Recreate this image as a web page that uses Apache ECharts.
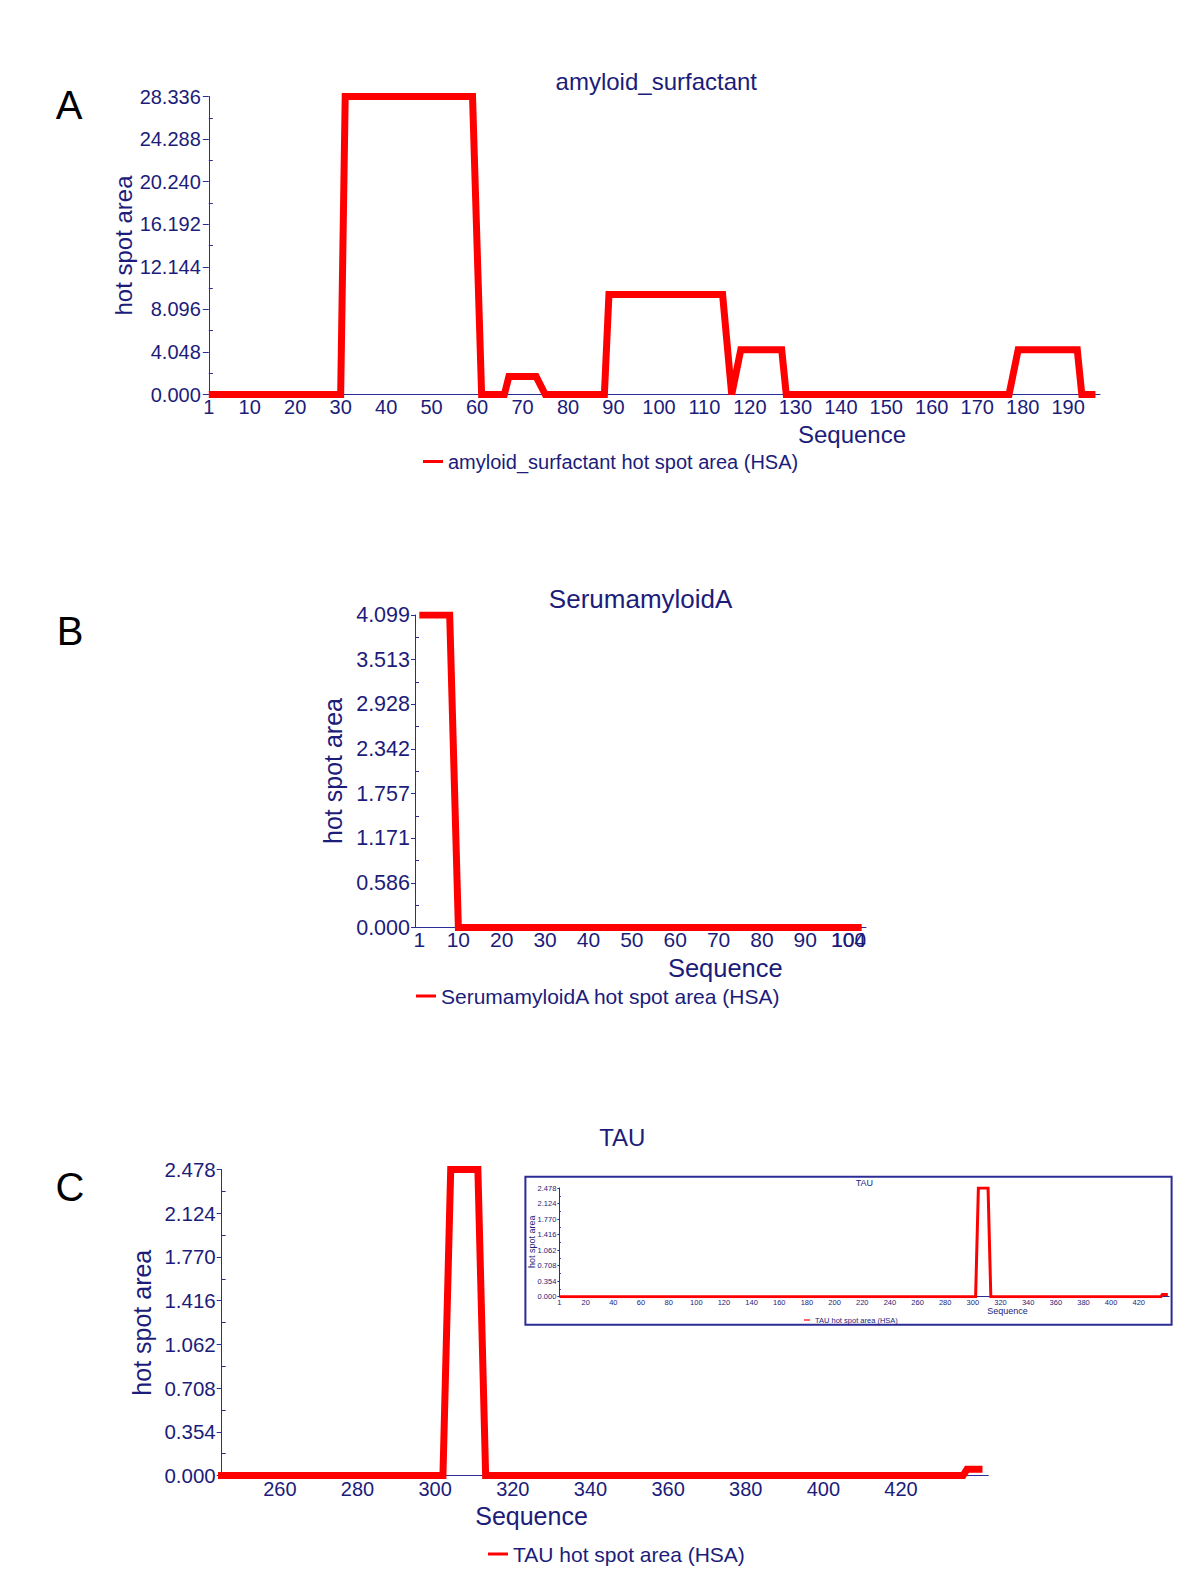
<!DOCTYPE html>
<html>
<head>
<meta charset="utf-8">
<script src="https://cdn.jsdelivr.net/npm/echarts@6/dist/echarts.min.js"></script>
<style>
html,body{margin:0;padding:0;background:#fff;}
#c{width:1200px;height:1591px;}
</style>
</head>
<body>
<div id="c"></div>
<script>
// ---------- DATA ----------
// Panel A: amyloid_surfactant (breakpoints of the HSA profile)
const aX = [1, 30, 31, 59, 61, 66, 67, 73, 75, 88, 89, 114, 116, 118, 127, 128, 177, 179, 192, 193, 196];
const aY = [0, 0, 28.336, 28.336, 0, 0, 1.7, 1.7, 0, 0, 9.5, 9.5, 0, 4.25, 4.25, 0, 0, 4.25, 4.25, 0, 0];
const aXTicks = [1, 10, 20, 30, 40, 50, 60, 70, 80, 90, 100, 110, 120, 130, 140, 150, 160, 170, 180, 190];
const aYTicks = [0, 4.048, 8.096, 12.144, 16.192, 20.240, 24.288, 28.336];

// Panel B: SerumamyloidA
const bX = [1, 8, 10, 103];
const bY = [4.099, 4.099, 0, 0];
const bXTicks = [1, 10, 20, 30, 40, 50, 60, 70, 80, 90, 100];
const bXEndTick = [104];
const bYTicks = [0, 0.586, 1.171, 1.757, 2.342, 2.928, 3.513, 4.099];

// Panel C: TAU (full sequence; main plot shows 245-441, inset shows all)
const cX = [1, 302, 304, 311, 313, 436, 437, 441];
const cY = [0, 0, 2.478, 2.478, 0, 0, 0.05, 0.05];
const cXTicks = [260, 280, 300, 320, 340, 360, 380, 400, 420];
const cYTicks = [0, 0.354, 0.708, 1.062, 1.416, 1.770, 2.124, 2.478];
const insetXTicks = [1, 20, 40, 60, 80, 100, 120, 140, 160, 180, 200, 220, 240, 260, 280, 300, 320, 340, 360, 380, 400, 420];

const nameA = 'amyloid_surfactant hot spot area (HSA)';
const nameB = 'SerumamyloidA hot spot area (HSA)';
const nameC = 'TAU hot spot area (HSA)';

// ---------- STYLE ----------
const FONT = "'Liberation Sans', Arial, Helvetica, sans-serif";
const NAVY = '#1c1c7a';
const AXIS = '#2c2c96';
const RED = '#ff0000';

function zip(xs, ys) { return xs.map((x, i) => [x, ys[i]]); }

function xAxis(gi, min, max, ticks, fs, margin, showLine, align) {
  const lbl = { customValues: ticks, fontSize: fs, color: NAVY, fontFamily: FONT, margin: margin, showMinLabel: true, showMaxLabel: true, hideOverlap: false };
  if (align) lbl.align = align;
  return {
    type: 'value', gridIndex: gi, min: min, max: max, position: 'bottom', offset: 0,
    axisLine: { show: showLine !== false, onZero: false, lineStyle: { color: AXIS, width: 1 } },
    axisTick: { show: false },
    splitLine: { show: false },
    axisLabel: lbl
  };
}
function yAxis(gi, max, ticks, fs, margin, tickLen, minorLen) {
  return {
    type: 'value', gridIndex: gi, min: 0, max: max, interval: max / 7, position: 'left',
    axisLine: { show: true, onZero: false, lineStyle: { color: AXIS, width: 1 } },
    axisTick: { show: true, length: tickLen, customValues: ticks, lineStyle: { color: AXIS } },
    minorTick: { show: true, splitNumber: 2, length: minorLen, lineStyle: { color: AXIS } },
    splitLine: { show: false },
    minorSplitLine: { show: false },
    axisLabel: { customValues: ticks, formatter: v => Number(v).toFixed(3), fontSize: fs, color: NAVY, fontFamily: FONT, margin: margin, hideOverlap: false }
  };
}
function lineSeries(name, gi, xs, ys, w) {
  return {
    type: 'line', name: name, xAxisIndex: gi, yAxisIndex: gi,
    data: zip(xs, ys), symbol: 'none', showSymbol: false, animation: false,
    lineStyle: { width: w, color: RED, join: 'miter', cap: 'butt' },
    itemStyle: { color: RED }
  };
}
function legend(name, left, top, fs, iw, ih) {
  return {
    data: [name], left: left, top: top, orient: 'horizontal', padding: 0, itemGap: 0,
    icon: 'rect', itemWidth: iw, itemHeight: ih, selectedMode: false,
    textStyle: { fontSize: fs, color: NAVY, fontFamily: FONT }
  };
}
function txt(s, x, y, fs, color, rot) {
  return {
    type: 'text', x: x, y: y, rotation: rot || 0, silent: true,
    style: { text: s, fontSize: fs, fontFamily: FONT, fill: color, align: 'center', verticalAlign: 'middle', textAlign: 'center', textVerticalAlign: 'middle' }
  };
}

const chart = echarts.init(document.getElementById('c'), null, { renderer: 'svg', width: 1200, height: 1591 });

const option = {
  animation: false,
  backgroundColor: '#ffffff',
  grid: [
    { left: 208.8, top: 96.5, width: 891.2, height: 298, outerBoundsMode: 'none', containLabel: false },
    { left: 415, top: 615, width: 451, height: 312.5, outerBoundsMode: 'none', containLabel: false },
    { left: 221.7, top: 1169.5, width: 766.6, height: 306, outerBoundsMode: 'none', containLabel: false },
    { left: 559.4, top: 1188, width: 609.8, height: 108.7, outerBoundsMode: 'none', containLabel: false }
  ],
  xAxis: [
    xAxis(0, 1, 197, aXTicks, 20, 2),
    xAxis(1, 0, 104, bXTicks, 21, 1.5),
    xAxis(2, 245, 442.5, cXTicks, 20, 3),
    xAxis(3, 1, 442, insetXTicks, 7.5, 1.5),
    xAxis(1, 0, 104, bXEndTick, 21, 1.5, false, 'right')
  ],
  yAxis: [
    yAxis(0, 28.336, aYTicks, 20, 8, 6, -4),
    yAxis(1, 4.099, bYTicks, 21.5, 5, 4, -4),
    yAxis(2, 2.478, cYTicks, 20.5, 6, 5, -4),
    yAxis(3, 2.478, cYTicks, 7.5, 3, 2, -1.5)
  ],
  legend: [
    legend(nameA, 423, 451.5, 20, 20, 3),
    legend(nameB, 416, 985.5, 21, 20, 3),
    legend(nameC, 488, 1543.5, 21, 20, 3),
    legend(nameC, 804, 1316, 7.5, 6, 1.2)
  ],
  series: [
    lineSeries(nameA, 0, aX, aY, 7),
    lineSeries(nameB, 1, bX, bY, 7),
    lineSeries(nameC, 2, cX, cY, 7),
    lineSeries(nameC, 3, cX, cY, 3)
  ],
  graphic: [
    txt('A', 69, 104.5, 40, '#000000'),
    txt('B', 70, 631, 40, '#000000'),
    txt('C', 70, 1187, 40, '#000000'),
    txt('amyloid_surfactant', 656.3, 81, 24, NAVY),
    txt('SerumamyloidA', 640.6, 598.5, 26, NAVY),
    txt('TAU', 622.3, 1137, 24, NAVY),
    txt('hot spot area', 123, 245.5, 24, NAVY, Math.PI / 2),
    txt('hot spot area', 332.7, 771, 25, NAVY, Math.PI / 2),
    txt('hot spot area', 142, 1322.7, 25, NAVY, Math.PI / 2),
    txt('Sequence', 852, 434, 24, NAVY),
    txt('Sequence', 725.3, 967.7, 25.5, NAVY),
    txt('Sequence', 531.5, 1515.5, 25, NAVY),
    {
      type: 'rect', silent: true,
      shape: { x: 525.4, y: 1176.7, width: 646.2, height: 148 },
      style: { fill: 'none', stroke: AXIS, lineWidth: 2 }
    },
    txt('TAU', 864.4, 1182.5, 9, NAVY),
    txt('hot spot area', 531.8, 1241.7, 9, NAVY, Math.PI / 2),
    txt('Sequence', 1007.5, 1311, 9, NAVY)
  ]
};
chart.setOption(option);
</script>
</body>
</html>
